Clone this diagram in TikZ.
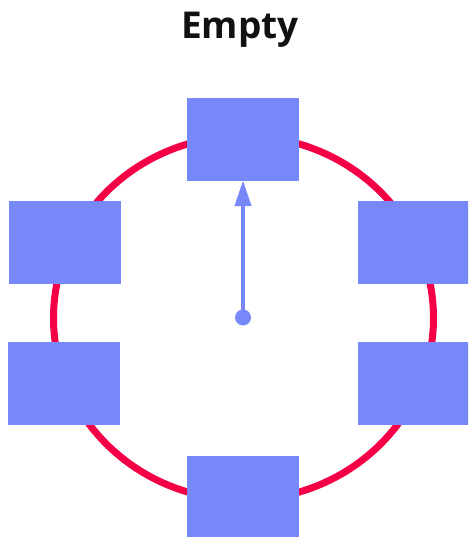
\documentclass[tikz,border=0pt]{standalone}
\usepackage{fontspec}
\newfontfamily\titlefont{Open Sans}
\usetikzlibrary{arrows.meta}
\definecolor{ringred}{RGB}{245,0,70}
\definecolor{slotblue}{RGB}{119,137,250}
\definecolor{titleink}{RGB}{17,17,17}
\tikzset{
  slot/.style={fill=slotblue,minimum width=112pt,minimum height=83pt,inner sep=0pt},
  hand/.style={slotblue,line width=4.3pt,-{Triangle[length=26pt,width=16pt]}}
}
\begin{document}
\begin{tikzpicture}[x=1pt,y=-1pt]%ring of slots
\clip (0,0) rectangle (468,537);
\useasboundingbox (0,0) rectangle (468,537);
\node[font=\titlefont\bfseries\fontsize{37}{42}\selectfont,text=titleink,anchor=base] (title) at (240,38.5) {Empty};
\coordinate (hubpos) at (243.5,318);
\draw[ringred,line width=7pt] (hubpos) ellipse [x radius=190,y radius=182];
%\draw[ringred,line width=7pt] (hubpos) circle (190);
\node[slot] (top) at (243,139.5) {};
\node[slot] (leftup) at (65,242.5) {};
\node[slot] (leftlow) at (64,383.5) {};
\node[slot] (rightup) at (414,242.5) {};
\node[slot] (rightlow) at (414,383.5) {};
\node[slot] (bottom) at (243,497.5) {};
\node[circle,fill=slotblue,minimum size=16pt,inner sep=0pt] (hub) at (243,317.5) {};
\draw[hand] (hub.center) -- ([yshift=1pt]top.south);
\end{tikzpicture}
\end{document}
